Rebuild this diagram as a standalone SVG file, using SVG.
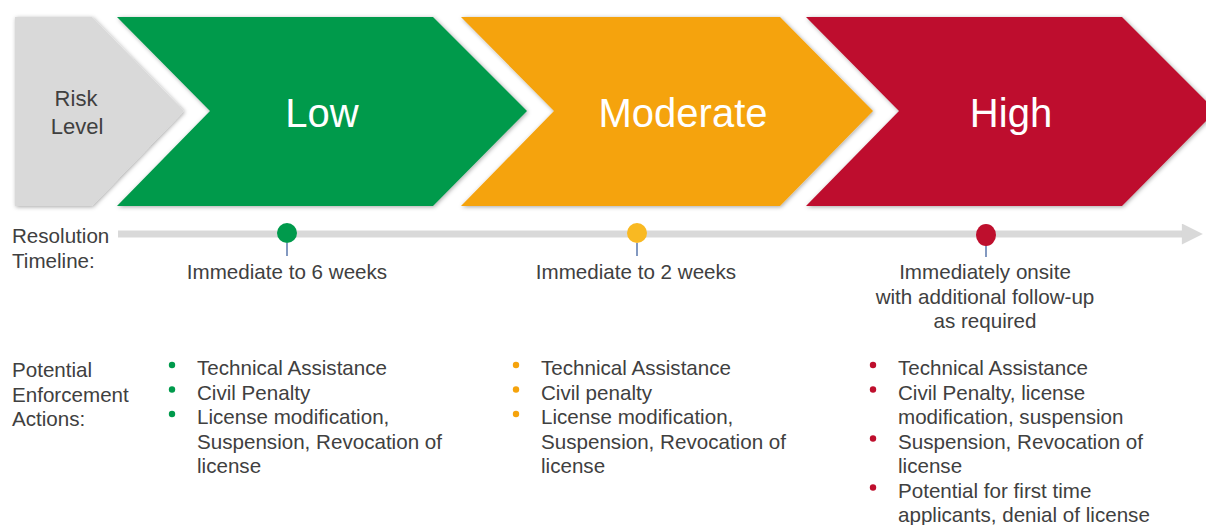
<svg xmlns="http://www.w3.org/2000/svg" width="1206" height="525" viewBox="0 0 1206 525">
  <defs>
    <filter id="shadow" x="-5%" y="-10%" width="110%" height="120%">
      <feDropShadow dx="1" dy="1" stdDeviation="2.2" flood-color="#000" flood-opacity="0.35"/>
    </filter>
    <marker id="arrowHead" viewBox="0 0 10 10" refX="1" refY="5" markerWidth="3.2" markerHeight="3" markerUnits="strokeWidth" orient="auto">
      <path d="M0,0 L10,5 L0,10 Z" fill="#D9D9D9"/>
    </marker>
  </defs>
  <style>
    .lbl { font-family: "Liberation Sans", Arial, sans-serif; font-size: 20.6px; fill: #404040; }
    .title { font-family: "Liberation Sans", Arial, sans-serif; font-size: 40px; fill: #FFFFFF; text-anchor: middle; }
    .mid { text-anchor: middle; }
    .stem { stroke: #2F5597; stroke-width: 1.2; }
  </style>
  <rect width="1206" height="525" fill="#FFFFFF"/>

  <!-- chevron header -->
  <g id="risk-level">
    <path d="M15,17 L92,17 L184,111 L92,206 L15,206 Z" fill="#D9D9D9" filter="url(#shadow)"/>
    <text class="lbl mid" x="76" y="106" style="font-size:22px">Risk</text>
    <text class="lbl mid" x="77" y="134" style="font-size:22px">Level</text>
  </g>
  <g id="low">
    <path d="M117,17 L433,17 L527,111 L433,206 L117,206 L210,111 Z" fill="#009A4C" filter="url(#shadow)"/>
    <text class="title" x="322" y="127">Low</text>
  </g>
  <g id="moderate">
    <path d="M461,17 L780,17 L873,111 L780,206 L461,206 L554,111 Z" fill="#F5A30C" filter="url(#shadow)"/>
    <text class="title" x="683" y="127">Moderate</text>
  </g>
  <g id="high">
    <path d="M806,17 L1122,17 L1216,111 L1122,206 L806,206 L899,111 Z" fill="#BE0F2D" filter="url(#shadow)"/>
    <text class="title" x="1011" y="127">High</text>
  </g>

  <!-- timeline -->
  <g id="connectors">
    <line x1="118" y1="234" x2="1184" y2="234" stroke="#D9D9D9" stroke-width="7" marker-end="url(#arrowHead)"/>
    <line class="stem" x1="287" y1="243" x2="287" y2="256"/>
    <line class="stem" x1="637" y1="243" x2="637" y2="256"/>
    <line class="stem" x1="986" y1="245" x2="986" y2="257"/>
  </g>

  <g id="row-labels">
    <text class="lbl" x="12" y="243">Resolution</text>
    <text class="lbl" x="12" y="268">Timeline:</text>
    <text class="lbl" x="12" y="377">Potential</text>
    <text class="lbl" x="12" y="402">Enforcement</text>
    <text class="lbl" x="12" y="426">Actions:</text>
  </g>

  <g id="low-details">
    <circle cx="287" cy="233" r="10" fill="#009A4C"/>
    <text class="lbl mid" x="287" y="279">Immediate to 6 weeks</text>
    <circle cx="172" cy="365" r="3.2" fill="#009A4C"/>
    <circle cx="172" cy="389.5" r="3.2" fill="#009A4C"/>
    <circle cx="172" cy="414" r="3.2" fill="#009A4C"/>
    <text class="lbl" x="197" y="375">Technical Assistance</text>
    <text class="lbl" x="197" y="399.5">Civil Penalty</text>
    <text class="lbl" x="197" y="424">License modification,</text>
    <text class="lbl" x="197" y="448.5">Suspension, Revocation of</text>
    <text class="lbl" x="197" y="473">license</text>
  </g>

  <g id="moderate-details">
    <circle cx="637" cy="233" r="10" fill="#F9B922"/>
    <text class="lbl mid" x="636" y="279">Immediate to 2 weeks</text>
    <circle cx="516" cy="365" r="3.2" fill="#F5A30C"/>
    <circle cx="516" cy="389.5" r="3.2" fill="#F5A30C"/>
    <circle cx="516" cy="414" r="3.2" fill="#F5A30C"/>
    <text class="lbl" x="541" y="375">Technical Assistance</text>
    <text class="lbl" x="541" y="399.5">Civil penalty</text>
    <text class="lbl" x="541" y="424">License modification,</text>
    <text class="lbl" x="541" y="448.5">Suspension, Revocation of</text>
    <text class="lbl" x="541" y="473">license</text>
  </g>

  <g id="high-details">
    <ellipse cx="986" cy="235" rx="10" ry="11" fill="#BE0F2D"/>
    <text class="lbl mid" x="985" y="279">Immediately onsite</text>
    <text class="lbl mid" x="985" y="303.5">with additional follow-up</text>
    <text class="lbl mid" x="985" y="328">as required</text>
    <circle cx="873" cy="365" r="3.2" fill="#BE0F2D"/>
    <circle cx="873" cy="389.5" r="3.2" fill="#BE0F2D"/>
    <circle cx="873" cy="438.5" r="3.2" fill="#BE0F2D"/>
    <circle cx="873" cy="487.5" r="3.2" fill="#BE0F2D"/>
    <text class="lbl" x="898" y="375">Technical Assistance</text>
    <text class="lbl" x="898" y="399.5">Civil Penalty, license</text>
    <text class="lbl" x="898" y="424">modification, suspension</text>
    <text class="lbl" x="898" y="448.5">Suspension, Revocation of</text>
    <text class="lbl" x="898" y="473">license</text>
    <text class="lbl" x="898" y="497.5">Potential for first time</text>
    <text class="lbl" x="898" y="522">applicants, denial of license</text>
  </g>
</svg>
